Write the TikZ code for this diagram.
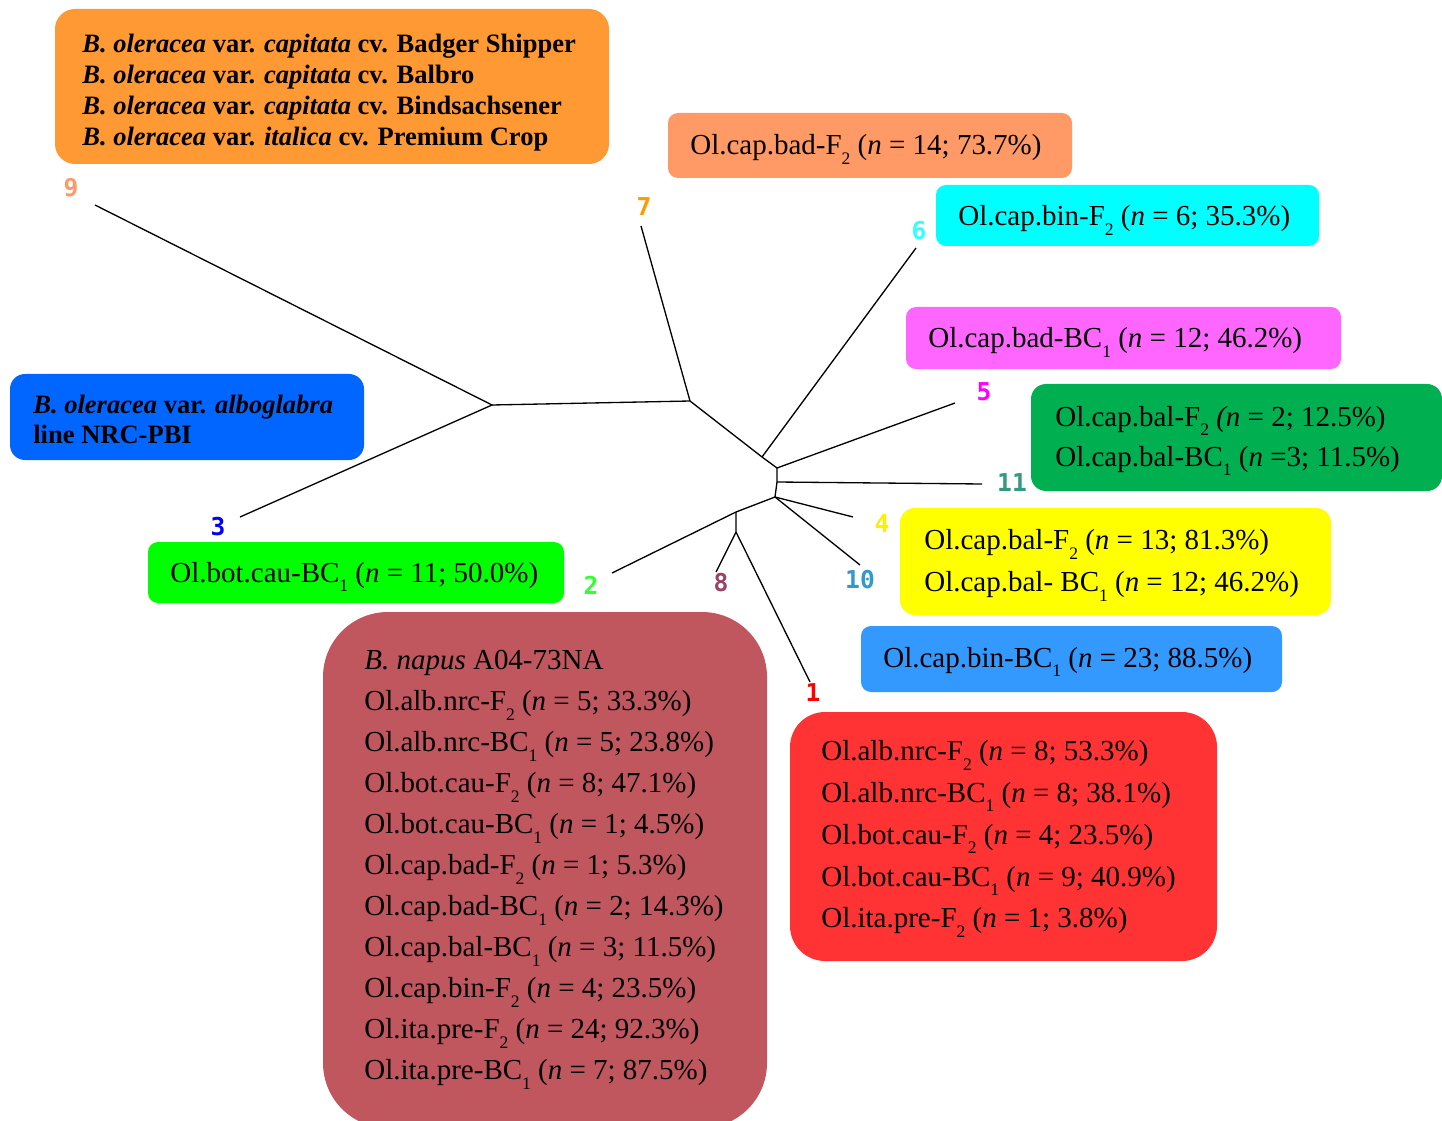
\documentclass[tikz,border=0pt]{standalone}
\usepackage{fontspec}
\setmainfont{Liberation Serif}
\newfontfamily\numfont{DejaVu Sans Mono}
\newcommand{\sbs}[1]{\raisebox{-0.32em}{\fontsize{10}{10}\selectfont #1}}
% box and label colours
\definecolor{orangebox}{RGB}{255,153,51}
\definecolor{salmonbox}{RGB}{255,153,102}
\definecolor{cyanbox}{RGB}{0,255,255}
\definecolor{pinkbox}{RGB}{255,102,255}
\definecolor{darkgreenbox}{RGB}{0,176,80}
\definecolor{bluebox}{RGB}{0,102,255}
\definecolor{limebox}{RGB}{0,255,0}
\definecolor{yellowbox}{RGB}{255,255,0}
\definecolor{skybox}{RGB}{51,153,255}
\definecolor{redbox}{RGB}{255,51,51}
\definecolor{brownbox}{RGB}{192,86,94}
\definecolor{orangenum}{RGB}{255,153,0}
\definecolor{cyannum}{RGB}{51,255,255}
\definecolor{magentanum}{RGB}{255,0,255}
\definecolor{tealnum}{RGB}{51,153,128}
\definecolor{yellownum}{RGB}{255,238,0}
\definecolor{ceruleannum}{RGB}{51,153,204}
\definecolor{mauvenum}{RGB}{153,68,102}
\definecolor{rednum}{RGB}{255,0,0}
\definecolor{greennum}{RGB}{51,255,51}
\definecolor{bluenum}{RGB}{0,0,255}
\begin{document}
\begin{tikzpicture}[x=0.02cm, y=-0.02cm,
    branch/.style={line width=0.75pt, black},
    num/.style={font=\numfont\bfseries\fontsize{14}{14}\selectfont, inner sep=0pt},
    txt/.style={font=\fontsize{16.5}{23}\selectfont, align=left, inner sep=0pt, anchor=west},
    btxt/.style={font=\fontsize{15.1}{17.47}\selectfont\bfseries, align=left, inner sep=0pt, anchor=west}]
    \useasboundingbox (0,0) rectangle (1442,1121);

    % coloured boxes
    \fill[orangebox, rounded corners=0.4cm] (55,9) rectangle (609,164);
    \fill[salmonbox, rounded corners=0.2cm] (668,113) rectangle (1072,178);
    \fill[cyanbox, rounded corners=0.2cm] (936,185) rectangle (1319,246);
    \fill[pinkbox, rounded corners=0.2cm] (906,307) rectangle (1341,369);
    \fill[darkgreenbox, rounded corners=0.3cm] (1031,384) rectangle (1442,491);
    \fill[bluebox, rounded corners=0.3cm] (10,374) rectangle (364,460);
    \fill[limebox, rounded corners=0.2cm] (148,542) rectangle (564,603);
    \fill[yellowbox, rounded corners=0.3cm] (900,508) rectangle (1331,615);
    \fill[skybox, rounded corners=0.2cm] (861,626) rectangle (1282,692);
    \fill[redbox, rounded corners=0.7cm] (790,712) rectangle (1217,961);
    \fill[brownbox, rounded corners=1.3cm] (323,612) rectangle (767,1128);

    % box texts
    \node[btxt] (cult) at (82,92.6) {\textit{B. oleracea} var. \textit{capitata} cv. Badger Shipper\\
        \textit{B. oleracea} var. \textit{capitata} cv. Balbro\\
        \textit{B. oleracea} var. \textit{capitata} cv. Bindsachsener\\
        \textit{B. oleracea} var. \textit{italica} cv. Premium Crop};
    \node[btxt, font=\fontsize{15.1}{17.1}\selectfont\bfseries] (albo) at (33,419) {\textit{B. oleracea} var. \textit{alboglabra}\\ line NRC-PBI};
    \node[txt, anchor=base west] (badF) at (690,155) {Ol.cap.bad-F\sbs{2} (\textit{n} = 14; 73.7\%)};
    \node[txt, anchor=base west] (binF) at (958,226) {Ol.cap.bin-F\sbs{2} (\textit{n} = 6; 35.3\%)};
    \node[txt, anchor=base west] (badB) at (928,348) {Ol.cap.bad-BC\sbs{1} (\textit{n} = 12; 46.2\%)};
    \node[txt, font=\fontsize{16.5}{22.8}\selectfont] (balG) at (1055,441) {Ol.cap.bal-F\sbs{2} \textit{(n} = 2; 12.5\%)\\
        Ol.cap.bal-BC\sbs{1} (\textit{n} =3; 11.5\%)};
    \node[txt, anchor=base west] (cauB) at (170,582) {Ol.bot.cau-BC\sbs{1} (\textit{n} = 11; 50.0\%)};
    \node[txt, font=\fontsize{16.5}{23.9}\selectfont] (balY) at (924,565.5) {Ol.cap.bal-F\sbs{2} (\textit{n} = 13; 81.3\%)\\
        Ol.cap.bal- BC\sbs{1} (\textit{n} = 12; 46.2\%)};
    \node[txt, anchor=base west] (binB) at (883,667) {Ol.cap.bin-BC\sbs{1} (\textit{n} = 23; 88.5\%)};
    \node[txt, font=\fontsize{16.5}{23.76}\selectfont] (grpR) at (821,839) {Ol.alb.nrc-F\sbs{2} (\textit{n} = 8; 53.3\%)\\
        Ol.alb.nrc-BC\sbs{1} (\textit{n} = 8; 38.1\%)\\
        Ol.bot.cau-F\sbs{2} (\textit{n} = 4; 23.5\%)\\
        Ol.bot.cau-BC\sbs{1}\ (\textit{n} = 9; 40.9\%)\\
        Ol.ita.pre-F\sbs{2} (\textit{n} = 1; 3.8\%)};
    \node[txt, font=\fontsize{16.5}{23.34}\selectfont] (napus) at (364,869.8) {\textit{B. napus} A04-73NA\\
        Ol.alb.nrc-F\sbs{2} (\textit{n} = 5; 33.3\%)\\
        Ol.alb.nrc-BC\sbs{1} (\textit{n} = 5; 23.8\%)\\
        Ol.bot.cau-F\sbs{2} (\textit{n} = 8; 47.1\%)\\
        Ol.bot.cau-BC\sbs{1} (\textit{n} = 1; 4.5\%)\\
        Ol.cap.bad-F\sbs{2} (\textit{n} = 1; 5.3\%)\\
        Ol.cap.bad-BC\sbs{1} (\textit{n} = 2; 14.3\%)\\
        Ol.cap.bal-BC\sbs{1} (\textit{n} = 3; 11.5\%)\\
        Ol.cap.bin-F\sbs{2} (\textit{n} = 4; 23.5\%)\\
        Ol.ita.pre-F\sbs{2} (\textit{n} = 24; 92.3\%)\\
        Ol.ita.pre-BC\sbs{1} (\textit{n} = 7; 87.5\%)};

    % tree: inner nodes and tips
    \coordinate (nL) at (492,405); \coordinate (nA) at (690,401); \coordinate (n6) at (762,457);
    \coordinate (nB) at (777,468); \coordinate (n11) at (777,482); \coordinate (nC) at (775,497);
    \coordinate (nD) at (736,512); \coordinate (nE) at (736,532);
    \coordinate (t9) at (95,205); \coordinate (t3) at (240,517); \coordinate (t7) at (641,226);
    \coordinate (t6) at (916,248); \coordinate (t5) at (955,403); \coordinate (t11) at (982,484);
    \coordinate (t4) at (853,517); \coordinate (t10) at (860,565); \coordinate (t2) at (612,573);
    \coordinate (t8) at (716,572); \coordinate (t1) at (810,682);

    \draw[branch] (t9) -- (nL) -- (t3);
    \draw[branch] (nL) -- (nA) -- (t7);
    \draw[branch] (nA) -- (n6) -- (nB); \draw[branch] (n6) -- (t6);
    \draw[branch] (nB) -- (t5); \draw[branch] (nB) -- (n11) -- (nC); \draw[branch] (n11) -- (t11);
    \draw[branch] (nC) -- (t4); \draw[branch] (nC) -- (t10);
    \draw[branch] (nC) -- (nD) -- (t2); \draw[branch] (nD) -- (nE) -- (t8); \draw[branch] (nE) -- (t1);

    % tip numbers
    \node[num, text=salmonbox] (lab9) at (71,188) {9};
    \node[num, text=orangenum] (lab7) at (644,207) {7};
    \node[num, text=cyannum] (lab6) at (919,231) {6};
    \node[num, text=magentanum] (lab5) at (984,392) {5};
    \node[num, text=tealnum] (lab11) at (1012,483) {11};
    \node[num, text=yellownum] (lab4) at (882,524) {4};
    \node[num, text=ceruleannum] (lab10) at (860,580) {10};
    \node[num, text=mauvenum] (lab8) at (721,583) {8};
    \node[num, text=rednum] (lab1) at (813,693) {1};
    \node[num, text=greennum] (lab2) at (591,585) {2};
    \node[num, text=bluenum] (lab3) at (218,527) {3};
\end{tikzpicture}
\end{document}
